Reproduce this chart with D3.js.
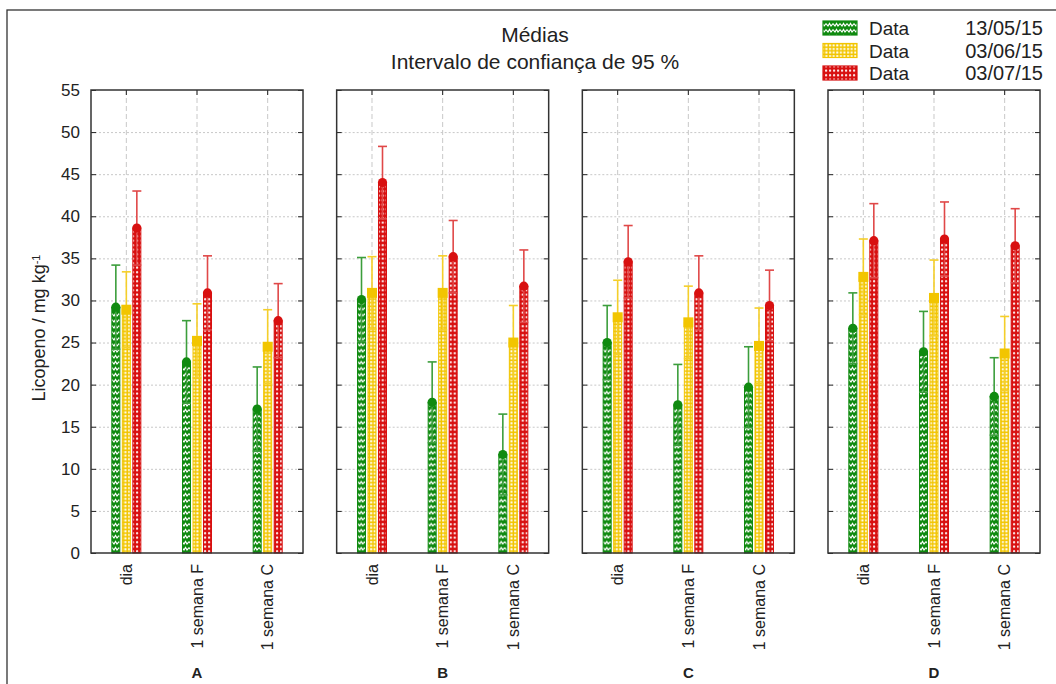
<html>
<head>
<script src="https://d3js.org/d3.v7.min.js"></script>
<style>
  body { margin: 0; background: #fff; }
  text { font-family: "Liberation Sans", Arial, sans-serif; fill: #222; }
  .grid line { stroke: #c8c8c8; stroke-width: 1px; }
  .grid path { display: none; }
  .frame { fill: none; stroke: #333; stroke-width: 1.3px; }
</style>
</head>
<body>
<svg id="chart" width="1056" height="684"></svg>
<script>
// data
const panels = ["A", "B", "C", "D"];
const groups = ["dia", "1 semana F", "1 semana C"];
const dates = ["13/05/15", "03/06/15", "03/07/15"];
const yTicks = [0, 5, 10, 15, 20, 25, 30, 35, 40, 45, 50, 55];

// means and upper 95% limits, panel by panel (A dia, A F, A C, B dia, ...)
const mean130515 = [29.2, 22.7, 17.1, 30.1, 17.9, 11.7, 25.0, 17.6, 19.7, 26.7, 23.9, 18.6];
const upper130515 = [34.2, 27.6, 22.1, 35.1, 22.7, 16.5, 29.4, 22.4, 24.5, 30.9, 28.7, 23.2];
const mean030615 = [28.9, 25.2, 24.5, 30.9, 30.9, 25.0, 28.0, 27.4, 24.6, 32.8, 30.3, 23.7];
const upper030615 = [33.4, 29.6, 28.9, 35.2, 35.3, 29.4, 32.4, 31.7, 29.1, 37.3, 34.8, 28.1];
const mean030715 = [38.6, 30.9, 27.6, 44.0, 35.2, 31.7, 34.6, 30.9, 29.4, 37.1, 37.3, 36.5];
const upper030715 = [43.0, 35.3, 32.0, 48.3, 39.5, 36.0, 38.9, 35.3, 33.6, 41.5, 41.7, 40.9];

const means = [mean130515, mean030615, mean030715];
const uppers = [upper130515, upper030615, upper030715];
const colors = ["#108a10", "#f2c500", "#d81010"];
const whiskerColors = ["#3c9e3c", "#f5cf2a", "#e04848"];

const svg = d3.select("#chart");
const defs = svg.append("defs");

// fill patterns
let pg = defs.append("pattern").attr("id", "pat0").attr("patternUnits", "userSpaceOnUse")
  .attr("width", 7).attr("height", 6);
pg.append("rect").attr("width", 7).attr("height", 6).attr("fill", colors[0]);
pg.append("path").attr("d", "M0,1.5 L2,4 L3.5,1.5 L5,4 L7,1.5")
  .attr("fill", "none").attr("stroke", "#fff").attr("stroke-width", 1.2);

let py = defs.append("pattern").attr("id", "pat1").attr("patternUnits", "userSpaceOnUse")
  .attr("width", 3.6).attr("height", 3.6);
py.append("rect").attr("width", 3.6).attr("height", 3.6).attr("fill", colors[1]);
py.append("rect").attr("x", 1.1).attr("y", 1.1).attr("width", 2).attr("height", 2).attr("fill", "#fff");

let pr = defs.append("pattern").attr("id", "pat2").attr("patternUnits", "userSpaceOnUse")
  .attr("width", 4).attr("height", 4.5);
pr.append("rect").attr("width", 4).attr("height", 4.5).attr("fill", colors[2]);
pr.append("rect").attr("x", 1).attr("y", 1.2).attr("width", 2.2).attr("height", 2).attr("rx", 0.8).attr("fill", "#fff");

// outer frame (cut by the picture edges)
svg.append("rect").attr("class", "frame").attr("x", 7).attr("y", 10)
  .attr("width", 1070).attr("height", 700);

const plotTop = 90, plotBottom = 553;
const y = d3.scaleLinear().domain([0, 55]).range([plotBottom, plotTop]);
const panelX = d3.scaleBand().domain(panels).range([91, 1040]).paddingInner(0.137);
const pw = panelX.bandwidth();
const x = d3.scaleBand().domain(groups).range([0, pw]);
const off = d3.scalePoint().domain([0, 1, 2]).range([-10.5, 10.5]);
const barW = 8;

panels.forEach((p, pi) => {
  const g = svg.append("g").attr("transform", `translate(${panelX(p)},0)`);

  // grid
  g.append("g").attr("class", "grid")
    .call(d3.axisLeft(y).tickValues(yTicks.slice(1, -1)).tickSize(-pw).tickFormat(""))
    .selectAll("line").attr("stroke-dasharray", "2,2");
  g.append("g").attr("class", "grid")
    .attr("transform", `translate(0,${plotTop})`)
    .call(d3.axisBottom(x).tickSize(plotBottom - plotTop).tickFormat(""))
    .selectAll("line").attr("stroke-dasharray", "5,3");

  groups.forEach((grp, gi) => {
    const k = pi * 3 + gi;
    const cx = x(grp) + x.bandwidth() / 2;
    [0, 1, 2].forEach(s => {
      const bx = cx + off(s);
      const m = means[s][k], u = uppers[s][k], l = 2 * m - u;
      g.append("rect")
        .attr("x", bx - barW / 2).attr("y", y(m))
        .attr("width", barW).attr("height", y(0) - y(m))
        .attr("fill", `url(#pat${s})`)
        .attr("stroke", colors[s]).attr("stroke-width", 1);
      g.append("line").attr("x1", bx).attr("x2", bx).attr("y1", y(l)).attr("y2", y(u))
        .attr("stroke", whiskerColors[s]).attr("stroke-width", 1.6);
      [u, l].forEach(v => {
        g.append("line").attr("x1", bx - 4.5).attr("x2", bx + 4.5).attr("y1", y(v)).attr("y2", y(v))
          .attr("stroke", whiskerColors[s]).attr("stroke-width", 1.6);
      });
      if (s === 1) {
        g.append("rect").attr("x", bx - 5).attr("y", y(m) - 5).attr("width", 10).attr("height", 10)
          .attr("fill", colors[1]);
      } else {
        g.append("circle").attr("cx", bx).attr("cy", y(m)).attr("r", 4.6).attr("fill", colors[s]);
      }
    });
  });

  // axes with inward ticks
  const la = g.append("g").call(d3.axisLeft(y).tickValues(yTicks).tickSizeInner(-5).tickSizeOuter(0).tickPadding(11));
  la.selectAll("text").style("font-size", "17px").attr("fill", "#222");
  if (pi > 0) la.selectAll("text").remove();
  g.append("g").attr("transform", `translate(${pw},0)`)
    .call(d3.axisRight(y).tickValues(yTicks).tickSizeInner(-5).tickSizeOuter(0).tickFormat(""));
  g.append("g").attr("transform", `translate(0,${plotTop})`)
    .call(d3.axisTop(x).tickSizeInner(-5).tickSizeOuter(0).tickFormat(""));
  g.selectAll(".domain").remove();
  g.selectAll(".tick line").attr("stroke", "#222");
  g.selectAll(".grid .tick line").attr("stroke", "#cfcfcf");

  g.append("rect").attr("x", 0).attr("y", plotTop).attr("width", pw).attr("height", plotBottom - plotTop)
    .attr("fill", "none").attr("stroke", "#333").attr("stroke-width", 1.5);

  // category labels
  const ba = g.append("g").attr("transform", `translate(0,${plotBottom})`)
    .call(d3.axisBottom(x).tickSize(0).tickPadding(0));
  ba.select(".domain").remove();
  ba.selectAll("text")
    .attr("transform", "rotate(-90)")
    .attr("text-anchor", "end")
    .attr("x", -11).attr("y", 0).attr("dy", "0.35em")
    .style("font-size", "16px").attr("fill", "#222");

  g.append("text").attr("x", pw / 2).attr("y", 678).attr("text-anchor", "middle")
    .style("font-size", "15px").style("font-weight", "bold").text(p);
});

// y axis title
const yt = svg.append("text").attr("transform", "translate(45,328) rotate(-90)")
  .attr("text-anchor", "middle").style("font-size", "18px");
yt.append("tspan").text("Licopeno / mg kg");
yt.append("tspan").attr("dy", "-0.5em").style("font-size", "11px").text("-1");

// title
svg.append("text").attr("x", 535).attr("y", 42).attr("text-anchor", "middle")
  .style("font-size", "21px").text("Médias");
svg.append("text").attr("x", 535).attr("y", 69).attr("text-anchor", "middle")
  .style("font-size", "21px").text("Intervalo de confiança de 95 %");

// legend
const lg = svg.append("g").selectAll("g").data(dates).join("g")
  .attr("transform", (d, i) => `translate(0,${28 + i * 22.5})`);
lg.append("rect").attr("x", 823).attr("y", -7).attr("width", 34).attr("height", 14)
  .attr("fill", (d, i) => `url(#pat${i})`).attr("stroke", (d, i) => colors[i]).attr("stroke-width", 1.2);
lg.append("text").attr("x", 869).attr("y", 7).style("font-size", "19px").text("Data");
lg.append("text").attr("x", 1043).attr("y", 7).attr("text-anchor", "end").style("font-size", "20px").text(d => d);
</script>
</body>
</html>
